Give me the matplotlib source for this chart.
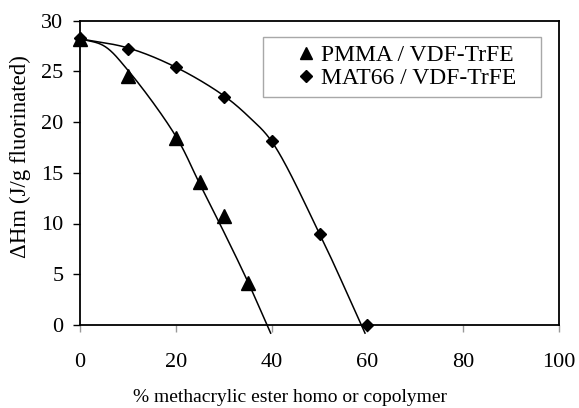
import numpy as np
import matplotlib
matplotlib.use("Agg")
import matplotlib.pyplot as plt
from matplotlib.lines import Line2D
from matplotlib.patches import Rectangle

plt.rcParams['font.family'] = ['Liberation Serif', 'DejaVu Serif']

# Measured data points
pmma_x = [0, 10, 20, 25, 30, 35]
pmma_y = [28.2, 24.5, 18.4, 14.1, 10.7, 4.1]
mat_x = [0, 10, 20, 30, 40, 50, 60]
mat_y = [28.3, 27.2, 25.4, 22.5, 18.1, 9.0, 0.0]

# Trend-curve knots
pmma_fit_x = [0, 5, 10, 20, 25, 30, 35, 39.8]
pmma_fit_y = [28.2, 27.5, 25.1, 18.6, 13.9, 9.2, 4.3, -0.8]
mat_fit_x = [0, 10, 20, 30, 35.5, 40, 50, 59.5]
mat_fit_y = [28.2, 27.3, 25.4, 22.6, 20.4, 18.1, 9.0, -0.8]

labels = ['PMMA / VDF-TrFE', 'MAT66 / VDF-TrFE']
xticks = [0, 20, 40, 60, 80, 100]
yticks = [0, 5, 10, 15, 20, 25, 30]


def catmull_rom(xs, ys, yscale=2.12, n=40, alpha=0.5):
    P = np.column_stack([np.asarray(xs, float), np.asarray(ys, float) * yscale])
    P = np.vstack([2 * P[0] - P[1], P, 2 * P[-1] - P[-2]])
    out = []
    for i in range(1, len(P) - 2):
        p0, p1, p2, p3 = P[i - 1], P[i], P[i + 1], P[i + 2]
        t0 = 0.0
        t1 = t0 + np.linalg.norm(p1 - p0) ** alpha
        t2 = t1 + np.linalg.norm(p2 - p1) ** alpha
        t3 = t2 + np.linalg.norm(p3 - p2) ** alpha
        t = np.linspace(t1, t2, n)[:, None]
        a1 = (t1 - t) / (t1 - t0) * p0 + (t - t0) / (t1 - t0) * p1
        a2 = (t2 - t) / (t2 - t1) * p1 + (t - t1) / (t2 - t1) * p2
        a3 = (t3 - t) / (t3 - t2) * p2 + (t - t2) / (t3 - t2) * p3
        b1 = (t2 - t) / (t2 - t0) * a1 + (t - t0) / (t2 - t0) * a2
        b2 = (t3 - t) / (t3 - t1) * a2 + (t - t1) / (t3 - t1) * a3
        c = (t2 - t) / (t2 - t1) * b1 + (t - t1) / (t2 - t1) * b2
        out.append(c if i == 1 else c[1:])
    C = np.vstack(out)
    return C[:, 0], C[:, 1] / yscale


fig = plt.figure(figsize=(5.79, 4.08), dpi=100)
ax = fig.add_axes([80 / 579, 1 - 325 / 408, 479 / 579, 304.5 / 408])

cx, cy = catmull_rom(pmma_fit_x, pmma_fit_y)
ax.plot(cx, cy, color='black', lw=1.1, clip_on=False, zorder=2)
cx, cy = catmull_rom(mat_fit_x, mat_fit_y)
ax.plot(cx, cy, color='black', lw=1.1, clip_on=False, zorder=2)

ax.plot(pmma_x, pmma_y, linestyle='none', marker='^', ms=10.5, color='black',
        clip_on=False, zorder=3)
ax.plot(mat_x, mat_y, linestyle='none', marker='D', ms=6.5, color='black',
        clip_on=False, zorder=3)

ax.set_xlim(0, 100)
ax.set_ylim(0, 30)
ax.set_xticks(xticks)
ax.set_yticks(yticks)
for s in ax.spines.values():
    s.set_color('black')
    s.set_linewidth(1.3)

ax.tick_params(axis='y', direction='out', length=5, width=1, color='black',
               labelsize=16, pad=7)
ax.tick_params(axis='x', direction='out', length=5, width=1, color='#999999',
               labelsize=16, pad=15)

# legend frame
ax.add_patch(Rectangle((263 / 579, 1 - 97 / 408), 278 / 579, 60 / 408,
                       transform=fig.transFigure, facecolor='white',
                       edgecolor='#a8a8a8', linewidth=1.0, zorder=4,
                       clip_on=False))

handles = [Line2D([], [], linestyle='none', marker='^', ms=9, color='black'),
           Line2D([], [], linestyle='none', marker='D', ms=6, color='black')]
leg = ax.legend(handles, labels, loc='center',
                bbox_to_anchor=(407 / 579, 1 - 67 / 408), bbox_transform=fig.transFigure,
                fontsize=17, frameon=False, handlelength=0.7, handletextpad=0.25,
                borderpad=0.0, labelspacing=0.05, borderaxespad=0)
leg.set_zorder(5)

fig.text(290 / 579, 1 - 397 / 408, '% methacrylic ester homo or copolymer',
         ha='center', va='center', fontsize=14)
fig.text(20 / 579, 1 - 157 / 408, 'ΔHm (J/g fluorinated)', rotation=90,
         ha='center', va='center', fontsize=16.5)

fig.savefig('out.png', dpi=100)
